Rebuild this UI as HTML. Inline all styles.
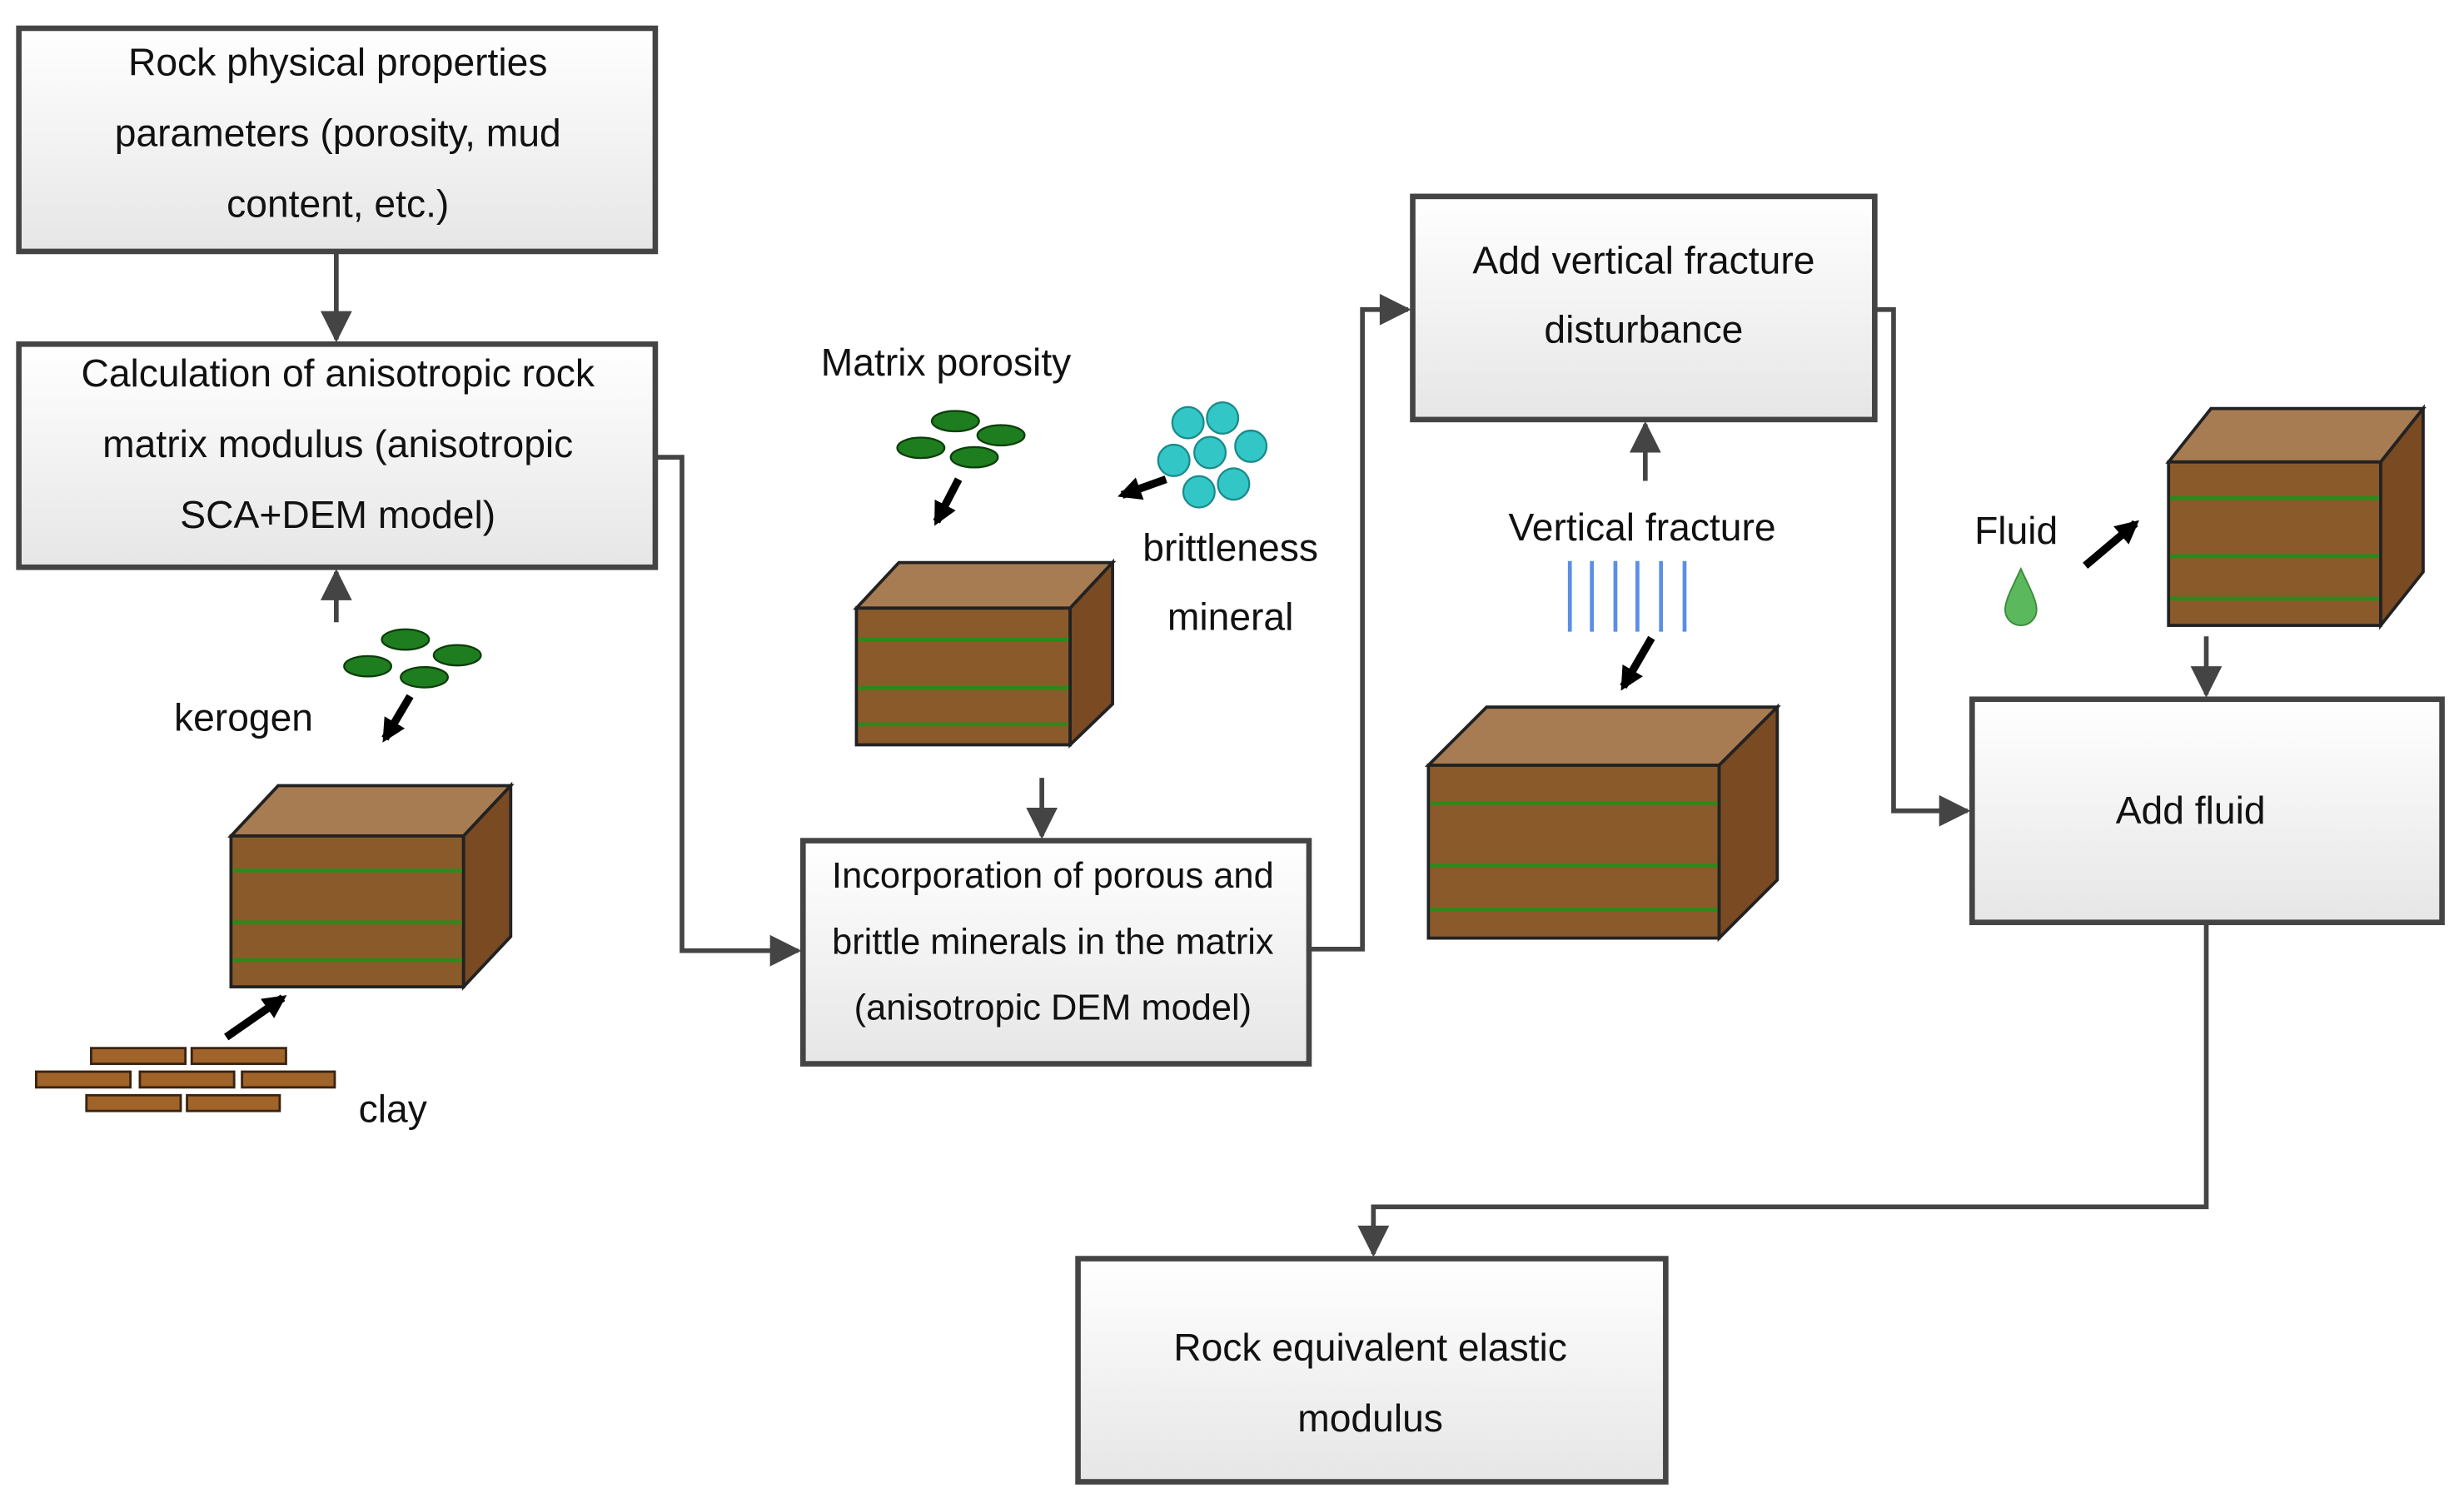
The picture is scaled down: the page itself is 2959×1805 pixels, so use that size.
<!DOCTYPE html>
<html><head><meta charset="utf-8"><style>html,body{margin:0;padding:0;background:#fff}svg{display:block}text{font-family:"Liberation Sans",sans-serif;fill:#111}</style></head>
<body>
<svg width="2959" height="1805" viewBox="0 0 1568 956.5" preserveAspectRatio="none" xmlns="http://www.w3.org/2000/svg">
<defs>
<linearGradient id="bg" x1="0" y1="0" x2="0" y2="1"><stop offset="0" stop-color="#ffffff"/><stop offset="1" stop-color="#e6e6e6"/></linearGradient>
<marker id="ah" viewBox="0 0 10 10" refX="9" refY="5" markerWidth="7" markerHeight="7" markerUnits="userSpaceOnUse" orient="auto"><path d="M0,0L10,5L0,10z" fill="#444"/></marker>
<marker id="ah2" viewBox="0 0 10 10" refX="9" refY="5" markerWidth="22" markerHeight="20" markerUnits="userSpaceOnUse" orient="auto"><path d="M0,0L10,5L0,10z" fill="#444"/></marker>
<marker id="bh" viewBox="0 0 10 10" refX="8" refY="5" markerWidth="3" markerHeight="3" orient="auto"><path d="M0,0L10,5L0,10z" fill="#000"/></marker>
<g id="e"><ellipse rx="15" ry="6.5" fill="#1e7d1e" stroke="#0b3d0b" stroke-width="1.2"/></g>
</defs>
<g stroke="#444" stroke-width="3.5" fill="url(#bg)">
<rect x="12" y="18" width="405" height="142"/>
<rect x="12" y="219" width="405" height="142"/>
<rect x="511" y="535" width="322" height="142"/>
<rect x="899" y="125" width="294" height="142"/>
<rect x="1255" y="445" width="299" height="142"/>
<rect x="686" y="801" width="374" height="142"/>
</g>
<g stroke="#444" stroke-width="3" fill="none" marker-end="url(#ah2)">
<path d="M214,160V216"/>
<path d="M214,396V364"/>
<path d="M417,291H434V605H508"/>
<path d="M663,495V532"/>
<path d="M833,604H867V197H896"/>
<path d="M1047,306V270"/>
<path d="M1193,197H1205V516H1252"/>
<path d="M1404,405V442"/>
<path d="M1404,587V768H874V798"/>
</g>
<g font-size="24.5" text-anchor="middle">
<text x="215" y="48">Rock physical properties</text>
<text x="215" y="93">parameters (porosity, mud</text>
<text x="215" y="138">content, etc.)</text>
<text x="215" y="246">Calculation of anisotropic rock</text>
<text x="215" y="291">matrix modulus (anisotropic</text>
<text x="215" y="336">SCA+DEM model)</text>
<text x="670" y="565" font-size="23">Incorporation of porous and</text>
<text x="670" y="607" font-size="23">brittle minerals in the matrix</text>
<text x="670" y="649" font-size="23">(anisotropic DEM model)</text>
<text x="1046" y="174">Add vertical fracture</text>
<text x="1046" y="218">disturbance</text>
<text x="1394" y="524">Add fluid</text>
<text x="872" y="866">Rock equivalent elastic</text>
<text x="872" y="911">modulus</text>
<text x="602" y="239">Matrix porosity</text>
<text x="783" y="357">brittleness</text>
<text x="783" y="401">mineral</text>
<text x="155" y="465">kerogen</text>
<text x="250" y="714">clay</text>
<text x="1045" y="344">Vertical fracture</text>
<text x="1283" y="346">Fluid</text>
</g>
<g stroke="#222" stroke-width="2">
<polygon points="147,532 177,500 325,500 295,532" fill="#a87c52"/>
<rect x="147" y="532" width="148" height="96" fill="#8b5a2b"/>
<polygon points="295,532 325,500 325,596 295,628" fill="#7a4a22"/>
<polygon points="545,387 572,358 708,358 681,387" fill="#a87c52"/>
<rect x="545" y="387" width="136" height="87" fill="#8b5a2b"/>
<polygon points="681,387 708,358 708,448 681,474" fill="#7a4a22"/>
<polygon points="909,487 946,450 1131,450 1094,487" fill="#a87c52"/>
<rect x="909" y="487" width="185" height="110" fill="#8b5a2b"/>
<polygon points="1094,487 1131,450 1131,560 1094,597" fill="#7a4a22"/>
<polygon points="1380,294 1407,260 1542,260 1515,294" fill="#a87c52"/>
<rect x="1380" y="294" width="135" height="104" fill="#8b5a2b"/>
<polygon points="1515,294 1542,260 1542,364 1515,398" fill="#7a4a22"/>
</g>
<g stroke="#2a8a1a" stroke-width="2.5">
<path d="M148,554H294M148,587H294M148,611H294"/>
<path d="M546,407H680M546,438H680M546,461H680"/>
<path d="M910,511H1093M910,551H1093M910,579H1093"/>
<path d="M1381,317H1514M1381,354H1514M1381,381H1514"/>
</g>
<use href="#e" x="258" y="407"/><use href="#e" x="234" y="424"/><use href="#e" x="291" y="417"/><use href="#e" x="270" y="431"/>
<use href="#e" x="608" y="268"/><use href="#e" x="586" y="285"/><use href="#e" x="637" y="277"/><use href="#e" x="620" y="291"/>
<g fill="#33c6c6" stroke="#1a8a8a" stroke-width="1.2">
<circle cx="756" cy="269" r="10"/><circle cx="778" cy="266" r="10"/><circle cx="747" cy="293" r="10"/><circle cx="770" cy="288" r="10"/><circle cx="796" cy="284" r="10"/><circle cx="763" cy="313" r="10"/><circle cx="785" cy="308" r="10"/>
</g>
<g fill="#a0632a" stroke="#3a2410" stroke-width="1.5">
<rect x="58" y="667" width="60" height="10"/><rect x="122" y="667" width="60" height="10"/>
<rect x="23" y="682" width="60" height="10"/><rect x="89" y="682" width="60" height="10"/><rect x="154" y="682" width="59" height="10"/>
<rect x="55" y="697" width="60" height="10"/><rect x="119" y="697" width="59" height="10"/>
</g>
<g stroke="#5b8ee6" stroke-width="2.5">
<path d="M999,357V402M1013,357V402M1028,357V402M1042,357V402M1057,357V402M1072,357V402"/>
</g>
<path d="M1286,362 C1280,375 1276,382 1276,388 A10,10 0 0 0 1296,388 C1296,382 1292,375 1286,362Z" fill="#5cb85c" stroke="#3a8a3a" stroke-width="1"/>
<g stroke="#000" stroke-width="5" fill="none" marker-end="url(#bh)">
<path d="M261,443L245,470"/>
<path d="M610,305L596,332"/>
<path d="M742,305L714,315"/>
<path d="M144,660L180,635"/>
<path d="M1051,406L1033,437"/>
<path d="M1327,360L1359,333"/>
</g>
</svg>
</body></html>
